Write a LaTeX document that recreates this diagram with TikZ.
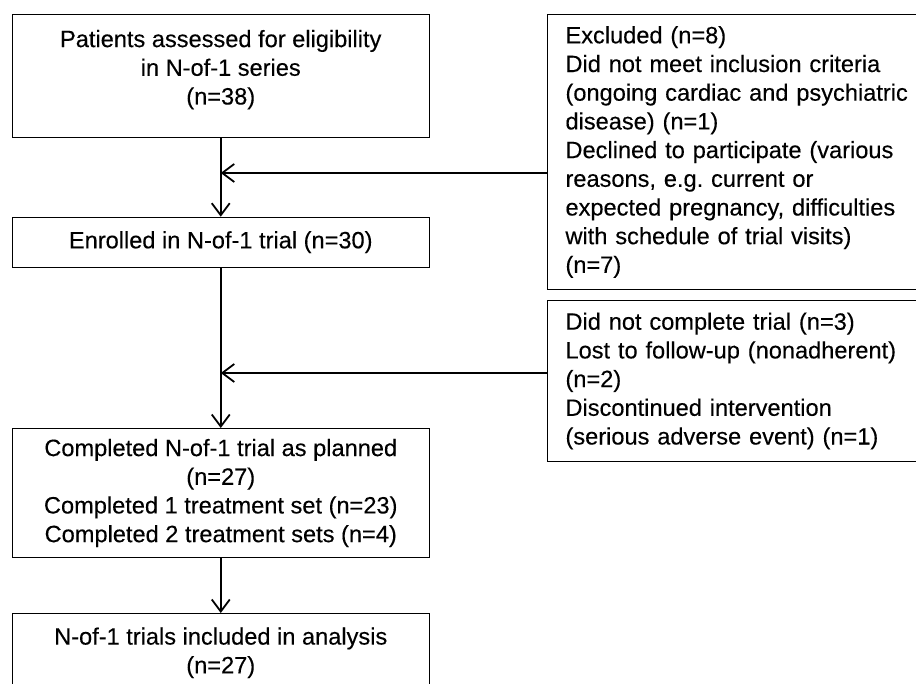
\documentclass[tikz,border=0pt]{standalone}
\usepackage{fontspec}
\setmainfont{Liberation Sans}[UprightFeatures={FakeBold=0.25}]
\usetikzlibrary{arrows.meta}
\hyphenpenalty=10000
\exhyphenpenalty=10000
\frenchspacing
\begin{document}
\begin{tikzpicture}[x=1pt,y=-1pt,
  font=\fontsize{23.6pt}{28.7pt}\selectfont,
  box/.style={draw, line width=1pt, rectangle, anchor=north west, inner sep=0pt, minimum width=417.5pt},
  sidebox/.style={draw, line width=1pt, rectangle, anchor=north west, inner xsep=18pt, inner ysep=0pt, text width=380pt, align=left},
  flow/.style={line width=1.8pt, -{Straight Barb[length=12pt,width=18pt,line width=1.8pt]}}
]
\useasboundingbox (0,0) rectangle (916,684);
\clip (0,0) rectangle (916,684);

\node[box, minimum height=122.5pt] (assess) at (11.5,14.5)
  {\parbox[c][122.5pt][t]{417.5pt}{\centering\vspace*{12pt}\strut Patients assessed for eligibility\\ in N-of-1 series\\ (n=38)}};
\node[box, minimum height=50pt] (enrol) at (11.5,216.7) {Enrolled in N-of-1 trial (n=30)};
\node[box, minimum height=129pt, align=center] (done) at (11.5,428)
  {Completed N-of-1 trial as planned\\ (n=27)\\ Completed 1 treatment set (n=23)\\ Completed 2 treatment sets (n=4)};
\node[box, minimum height=90pt] (anal) at (11.5,613)
  {\parbox[c][90pt][t]{417.5pt}{\centering\vspace*{11pt}\strut N-of-1 trials included in analysis\\ (n=27)}};

\node[sidebox, minimum height=275pt] (excl) at (547,14)
  {Excluded (n=8)\\ Did not meet inclusion criteria\\ (ongoing cardiac and psychiatric\\ disease) (n=1)\\ Declined to participate (various\\ reasons, e.g. current or\\ expected pregnancy, difficulties\\ with schedule of trial visits)\\ (n=7)};
\node[sidebox, minimum height=161pt] (drop) at (547,300)
  {Did not complete trial (n=3)\\ Lost to follow-up (nonadherent)\\ (n=2)\\ Discontinued intervention\\ (serious adverse event) (n=1)};

\path (assess.south) ++(0,35) coordinate (j1);
\path (enrol.south) ++(0,105.3) coordinate (j2);

\draw[flow] (assess.south) -- (enrol.north);
\draw[flow] (excl.west |- j1) -- (j1);
\draw[flow] (enrol.south) -- (done.north);
\draw[flow] (drop.west |- j2) -- (j2);
\draw[flow] (done.south) -- (anal.north);
\end{tikzpicture}
\end{document}
